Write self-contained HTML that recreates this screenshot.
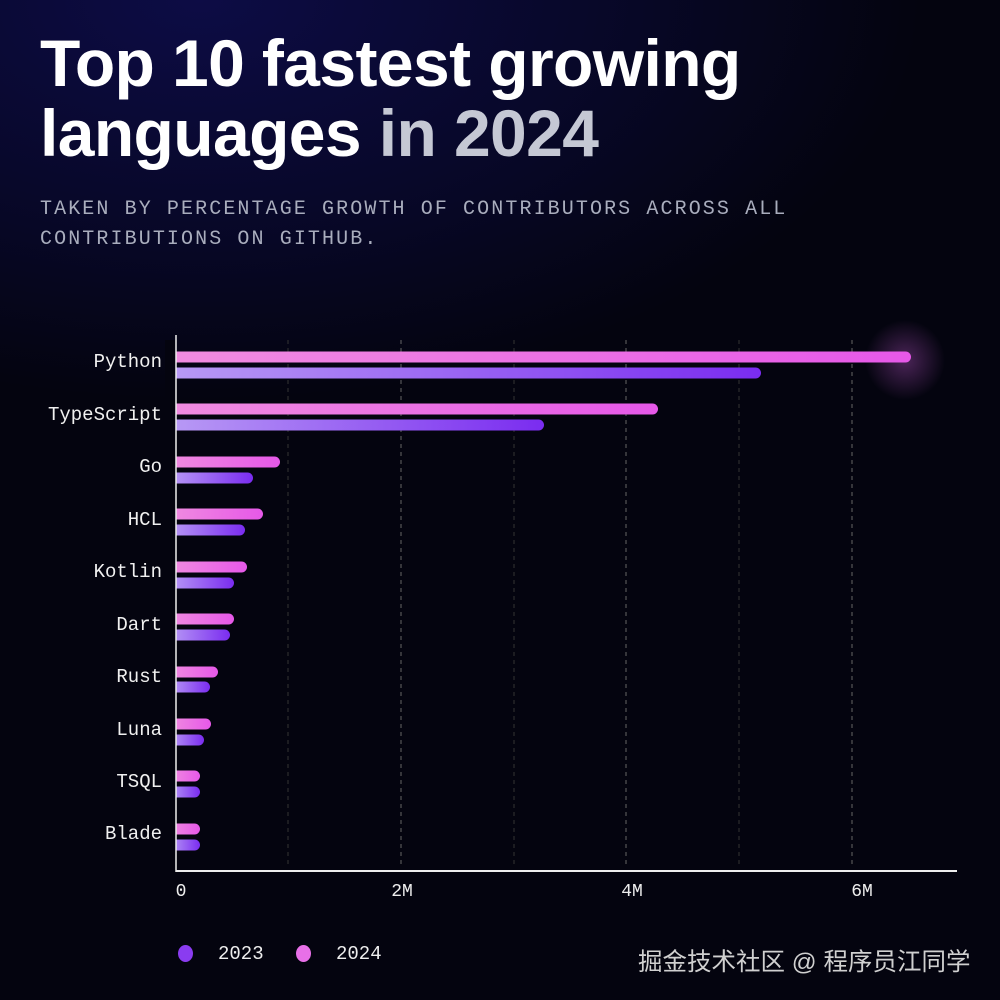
<!DOCTYPE html>
<html><head><meta charset="utf-8"><style>
html,body{margin:0;padding:0}
body{width:1000px;height:1000px;overflow:hidden;position:relative;
background:radial-gradient(ellipse 900px 500px at 20% 0%,#0d0c45 0%,#070725 50%,#04040f 80%),#04040f;
font-family:"Liberation Sans",sans-serif;color:#fff}
h1{position:absolute;left:40px;top:28px;margin:0;font-size:66px;line-height:70px;font-weight:bold;letter-spacing:-0.6px}
h1 span{color:#c5c8d4}
.sub{position:absolute;left:40px;top:195px;font-family:"Liberation Mono",monospace;font-size:20px;line-height:30px;color:#a9adbd;letter-spacing:2.1px}
.lbl{position:absolute;right:838px;font-family:"Liberation Mono",monospace;font-size:19px;color:#f0f0f0}
.tk{position:absolute;top:882px;font-family:"Liberation Mono",monospace;font-size:18px;color:#eee;transform:translateX(-50%)}
.leg{position:absolute;top:943px;font-family:"Liberation Mono",monospace;font-size:19px;color:#eee}
.dot{position:absolute;top:945px;width:15px;height:17px;border-radius:50%}
.wm{position:absolute;left:638px;top:943px;font-size:24.5px;color:#d0d0d0;font-family:"Liberation Sans","Noto Sans CJK SC",sans-serif}
</style></head><body>
<h1>Top 10 fastest growing<br>languages <span>in 2024</span></h1>
<div class="sub">TAKEN BY PERCENTAGE GROWTH OF CONTRIBUTORS ACROSS ALL<br>CONTRIBUTIONS ON GITHUB.</div>
<svg width="1000" height="1000" style="position:absolute;left:0;top:0">
<defs>
<linearGradient id="p" x1="0" x2="1"><stop offset="0" stop-color="#f08ce0"/><stop offset="1" stop-color="#e658e8"/></linearGradient>
<linearGradient id="v" x1="0" x2="1"><stop offset="0" stop-color="#b89af5"/><stop offset="1" stop-color="#7a2cf0"/></linearGradient>
<radialGradient id="g"><stop offset="0" stop-color="#d060e0" stop-opacity=".35"/><stop offset="1" stop-color="#d060e0" stop-opacity="0"/></radialGradient>
</defs>
<circle cx="905" cy="360" r="40" fill="url(#g)"/>
<g stroke="#666" stroke-dasharray="4,4" stroke-width="1">
<line x1="288" y1="340" x2="288" y2="866" stroke="#333"/>
<line x1="401" y1="340" x2="401" y2="866"/>
<line x1="514" y1="340" x2="514" y2="866" stroke="#333"/>
<line x1="626" y1="340" x2="626" y2="866"/>
<line x1="739" y1="340" x2="739" y2="866" stroke="#333"/>
<line x1="852" y1="340" x2="852" y2="866"/>
</g>
<g>
<rect x="170" y="351.5" width="741" height="11" rx="5.5" fill="url(#p)"/>
<rect x="170" y="367.5" width="591" height="11" rx="5.5" fill="url(#v)"/>
<rect x="170" y="403.5" width="488" height="11" rx="5.5" fill="url(#p)"/>
<rect x="170" y="419.5" width="374" height="11" rx="5.5" fill="url(#v)"/>
<rect x="170" y="456.5" width="110" height="11" rx="5.5" fill="url(#p)"/>
<rect x="170" y="472.5" width="83" height="11" rx="5.5" fill="url(#v)"/>
<rect x="170" y="508.5" width="93" height="11" rx="5.5" fill="url(#p)"/>
<rect x="170" y="524.5" width="75" height="11" rx="5.5" fill="url(#v)"/>
<rect x="170" y="561.5" width="77" height="11" rx="5.5" fill="url(#p)"/>
<rect x="170" y="577.5" width="64" height="11" rx="5.5" fill="url(#v)"/>
<rect x="170" y="613.5" width="64" height="11" rx="5.5" fill="url(#p)"/>
<rect x="170" y="629.5" width="60" height="11" rx="5.5" fill="url(#v)"/>
<rect x="170" y="666.5" width="48" height="11" rx="5.5" fill="url(#p)"/>
<rect x="170" y="681.5" width="40" height="11" rx="5.5" fill="url(#v)"/>
<rect x="170" y="718.5" width="41" height="11" rx="5.5" fill="url(#p)"/>
<rect x="170" y="734.5" width="34" height="11" rx="5.5" fill="url(#v)"/>
<rect x="170" y="770.5" width="30" height="11" rx="5.5" fill="url(#p)"/>
<rect x="170" y="786.5" width="30" height="11" rx="5.5" fill="url(#v)"/>
<rect x="170" y="823.5" width="30" height="11" rx="5.5" fill="url(#p)"/>
<rect x="170" y="839.5" width="30" height="11" rx="5.5" fill="url(#v)"/>
</g>
<rect x="165" y="340" width="11" height="530" fill="#04040f"/>
<line x1="176" y1="335" x2="176" y2="872" stroke="#eee" stroke-width="1.5"/>
<line x1="176" y1="871" x2="957" y2="871" stroke="#eee" stroke-width="2"/>
</svg>
<div class="lbl" style="top:351px">Python</div>
<div class="lbl" style="top:404px">TypeScript</div>
<div class="lbl" style="top:456px">Go</div>
<div class="lbl" style="top:509px">HCL</div>
<div class="lbl" style="top:561px">Kotlin</div>
<div class="lbl" style="top:614px">Dart</div>
<div class="lbl" style="top:666px">Rust</div>
<div class="lbl" style="top:719px">Luna</div>
<div class="lbl" style="top:771px">TSQL</div>
<div class="lbl" style="top:823px">Blade</div>
<div class="tk" style="left:181px">0</div>
<div class="tk" style="left:402px">2M</div>
<div class="tk" style="left:632px">4M</div>
<div class="tk" style="left:862px">6M</div>
<div class="dot" style="left:178px;background:#8a3cf0"></div>
<div class="leg" style="left:218px">2023</div>
<div class="dot" style="left:296px;background:#e870e8"></div>
<div class="leg" style="left:336px">2024</div>
<div class="wm">掘金技术社区 @ 程序员江同学</div>
</body></html>
